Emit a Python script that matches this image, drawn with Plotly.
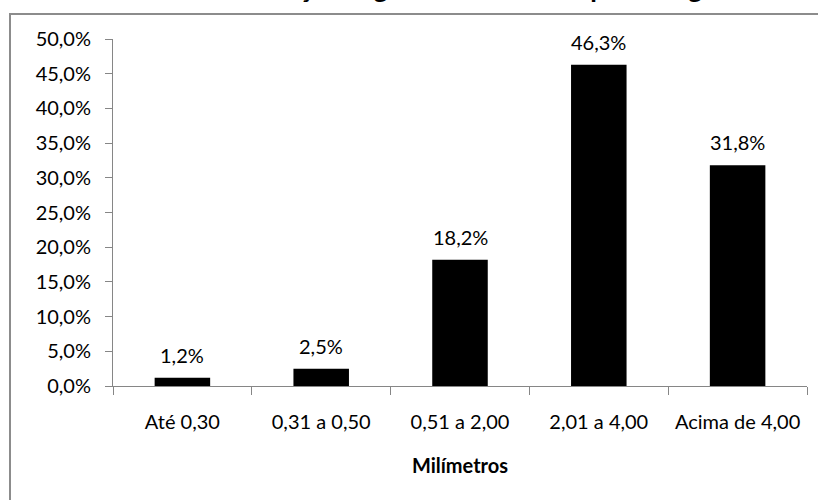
import plotly.graph_objects as go

# ---- data ----
categories = ["Até 0,30", "0,31 a 0,50", "0,51 a 2,00", "2,01 a 4,00", "Acima de 4,00"]
values = [0.012, 0.025, 0.182, 0.463, 0.318]
value_labels = ["1,2%", "2,5%", "18,2%", "46,3%", "31,8%"]
y_tickvals = [0.0, 0.05, 0.10, 0.15, 0.20, 0.25, 0.30, 0.35, 0.40, 0.45, 0.50]
y_ticktext = ["0,0%", "5,0%", "10,0%", "15,0%", "20,0%", "25,0%", "30,0%",
              "35,0%", "40,0%", "45,0%", "50,0%"]
title_text = "Distribuição segundo o tamanho por categoria"
x_title = "Milímetros"

# ---- layout geometry (pixels) ----
W_FIG, H_FIG = 818, 500
L, R, T, B = 113, 11, 39, 114
PW = W_FIG - L - R
PH = H_FIG - T - B


def px_x(p):
    return (p - L) / PW


def px_y(p):
    return (H_FIG - B - p) / PH


FONT = "Lato"
AXIS_GRAY = "#868686"

fig = go.Figure()
fig.add_trace(go.Bar(
    x=categories,
    y=values,
    marker=dict(color="#000000", line=dict(width=0)),
    hoverinfo="skip",
))

annotations = []
for c, v, lab in zip(categories, values, value_labels):
    annotations.append(dict(
        x=c, y=v, xref="x", yref="y", text=lab, showarrow=False,
        yanchor="middle", xanchor="center", yshift=23,
        font=dict(family=FONT, size=20, color="#000000"),
    ))

# cropped chart title (only the bottom of it is visible)
annotations.append(dict(
    x=px_x(193), y=px_y(5.8), xref="paper", yref="paper", text=title_text,
    showarrow=False, xanchor="left", yanchor="bottom",
    font=dict(family=FONT, size=27, color="#000000", weight="bold"),
))

fig.update_layout(
    width=W_FIG, height=H_FIG,
    margin=dict(l=L, r=R, t=T, b=B, pad=0),
    paper_bgcolor="white", plot_bgcolor="white",
    font=dict(family=FONT, size=20, color="#000000"),
    showlegend=False,
    bargap=0.6,
    annotations=annotations,
    shapes=[dict(
        type="rect", xref="paper", yref="paper",
        x0=px_x(10), x1=px_x(1000), y0=px_y(800), y1=px_y(14),
        line=dict(color="#8c8c8c", width=2), fillcolor="rgba(0,0,0,0)",
        layer="above",
    )],
    xaxis=dict(
        type="category", range=[-0.5, 4.5],
        showline=True, linecolor=AXIS_GRAY, linewidth=1,
        ticks="outside", tickson="boundaries", ticklen=8, tickcolor=AXIS_GRAY,
        showgrid=False, zeroline=False,
        ticklabelstandoff=18,
        tickfont=dict(family=FONT, size=20, color="#000000"),
        title=dict(text=x_title, standoff=26,
                   font=dict(family=FONT, size=20, color="#000000", weight="bold")),
    ),
    yaxis=dict(
        range=[0, 0.5], tickvals=y_tickvals, ticktext=y_ticktext,
        showline=True, linecolor=AXIS_GRAY, linewidth=1,
        ticks="outside", ticklen=7, tickcolor=AXIS_GRAY,
        showgrid=False, zeroline=False,
        ticklabelstandoff=10,
        tickfont=dict(family=FONT, size=20, color="#000000"),
    ),
)

fig.write_html("out.html")
